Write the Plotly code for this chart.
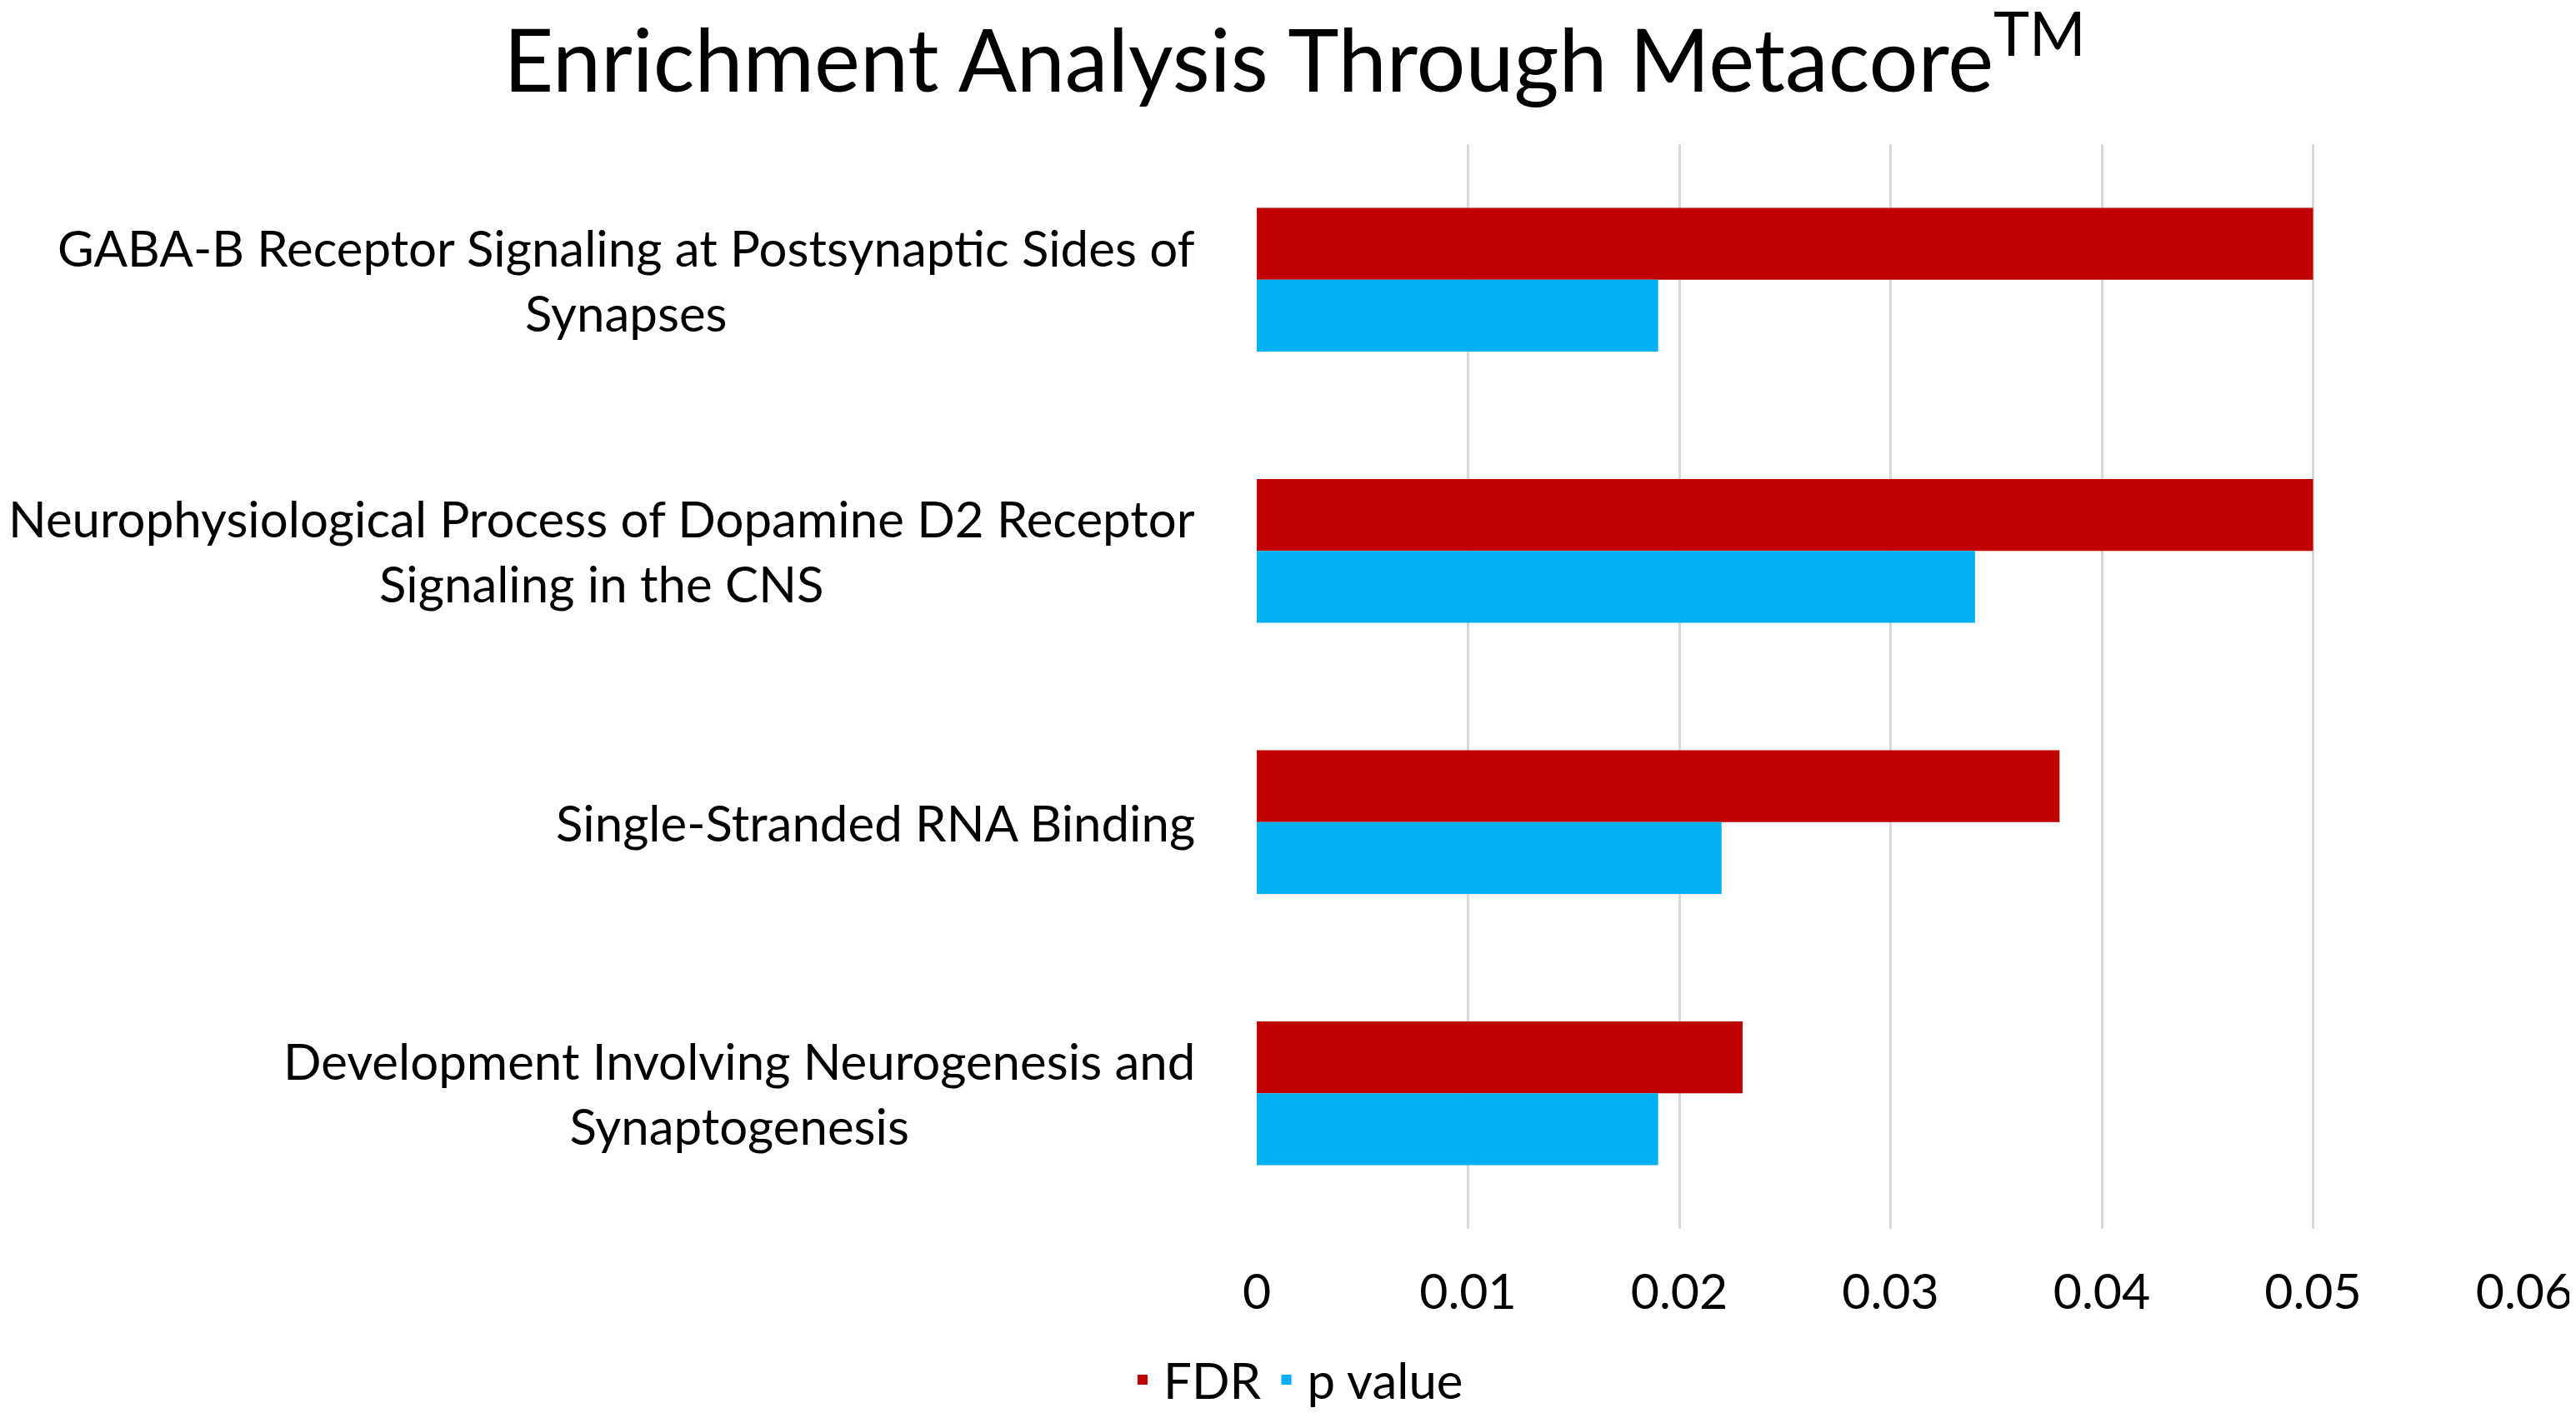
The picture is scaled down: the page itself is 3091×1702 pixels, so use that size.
import plotly.graph_objects as go

# data
categories = [
    "GABA-B Receptor Signaling at Postsynaptic Sides of<br>Synapses",
    "Neurophysiological Process of Dopamine D2 Receptor<br>Signaling in the CNS",
    "Single-Stranded RNA Binding",
    "Development Involving Neurogenesis and<br>Synaptogenesis",
]
fdr = [0.05, 0.05, 0.038, 0.023]
p_value = [0.019, 0.034, 0.022, 0.019]
x_ticks = [0, 0.01, 0.02, 0.03, 0.04, 0.05, 0.06]

FONT = "Lato"

fig = go.Figure()
fig.add_trace(go.Bar(y=categories, x=fdr, orientation="h", name="FDR",
                     marker=dict(color="#C00000", line=dict(width=0))))
fig.add_trace(go.Bar(y=categories, x=p_value, orientation="h", name="p value",
                     marker=dict(color="#00B0F0", line=dict(width=0))))

# category labels as annotations so the wrapped lines are centred like the original
labels = []
for cat in categories:
    labels.append(dict(text=cat, x=0, xref="paper", xanchor="right", xshift=-72,
                       y=cat, yref="y", yanchor="middle", align="center",
                       showarrow=False, font=dict(family=FONT, size=60, color="black")))

fig.update_layout(
    width=3091, height=1702,
    title=dict(text="Enrichment Analysis Through Metacore<sup>TM</sup>",
               x=0.5, xref="container", xanchor="center",
               y=1 - 66 / 1702, yref="container", yanchor="middle",
               font=dict(family=FONT, size=104, color="black")),
    barmode="group", bargap=0.47, bargroupgap=0,
    plot_bgcolor="white", paper_bgcolor="white",
    margin=dict(l=1500, r=64, t=165, b=235),
    xaxis=dict(range=[0, 0.06], tickvals=x_ticks, ticktext=[str(v) for v in x_ticks],
               showgrid=True, gridcolor="#D9D9D9", gridwidth=3,
               zeroline=False, showline=False, ticks="",
               ticklabelstandoff=36,
               tickfont=dict(family=FONT, size=59, color="black")),
    yaxis=dict(autorange="reversed", showticklabels=False, showgrid=False,
               zeroline=False, showline=False, ticks=""),
    annotations=labels,
    legend=dict(orientation="h", xref="container", x=0.5, xanchor="center",
                yref="container", y=1 - 1648 / 1702, yanchor="middle",
                font=dict(family=FONT, size=60, color="black"),
                itemwidth=40, traceorder="normal"),
    showlegend=True,
)

fig.write_html("out.html")
